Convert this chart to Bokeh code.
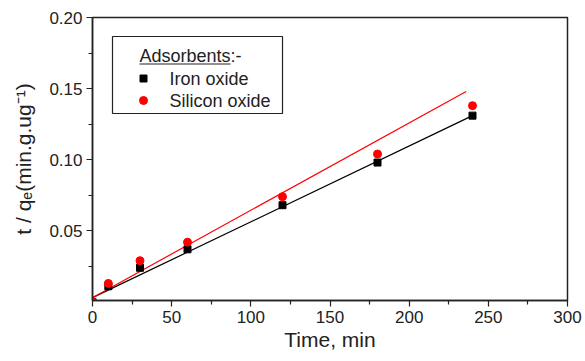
from bokeh.plotting import figure
from bokeh.models import FixedTicker, Range1d
from bokeh.core.properties import value
from bokeh.embed import file_html
from bokeh.resources import INLINE

# Data
time = [0, 10, 30, 60, 120, 180, 240]
iron = [0.0, 0.011, 0.024, 0.037, 0.068, 0.098, 0.131]
silicon = [0.0, 0.013, 0.029, 0.042, 0.074, 0.104, 0.138]
iron_fit_x = [0, 240]
iron_fit_y = [0.003, 0.131]
silicon_fit_x = [0, 236]
silicon_fit_y = [0.003, 0.148]

x_ticks = [0, 50, 100, 150, 200, 250, 300]
x_minor = [25, 75, 125, 175, 225, 275]
y_ticks = [0.05, 0.10, 0.15, 0.20]
y_minor = [0.025, 0.075, 0.125, 0.175]

legend_title = "Adsorbents"
legend_labels = ["Iron oxide", "Silicon oxide"]

FONT = "Liberation Sans"
X0, X1, Y0, Y1 = 0, 300, 0.001, 0.20
L, R, T, B = 92, 567, 17, 300   # frame edges in canvas pixels


def dx(px):
    return X0 + (px - L) * (X1 - X0) / (R - L)


def dy(py):
    return Y0 + (B - py) * (Y1 - Y0) / (B - T)


p = figure(width=585, height=361, output_backend="svg", toolbar_location=None,
           x_range=Range1d(X0, X1), y_range=Range1d(Y0, Y1),
           min_border_left=L, min_border_right=585 - R, min_border_top=T,
           min_border_bottom=361 - B)
p.background_fill_color = "white"
p.border_fill_color = "white"
p.outline_line_color = "#222222"
p.outline_line_width = 1.5
p.xgrid.visible = False
p.ygrid.visible = False

p.xaxis.ticker = FixedTicker(ticks=x_ticks, minor_ticks=x_minor)
p.yaxis.ticker = FixedTicker(ticks=y_ticks, minor_ticks=y_minor)
p.yaxis.major_label_overrides = {0.05: "0.05", 0.10: "0.10", 0.15: "0.15", 0.20: "0.20"}

for ax in (p.xaxis[0], p.yaxis[0]):
    ax.axis_line_color = "#222222"
    ax.axis_line_width = 1.5
    ax.major_tick_line_color = "#222222"
    ax.minor_tick_line_color = "#222222"
    ax.major_tick_line_width = 1.2
    ax.minor_tick_line_width = 1.2
    ax.major_tick_in = 0
    ax.major_tick_out = 6
    ax.minor_tick_in = 0
    ax.minor_tick_out = 4
    ax.major_label_standoff = 4
    ax.major_label_text_font = FONT
    ax.major_label_text_font_size = "17px"
    ax.major_label_text_color = "#222222"
    ax.axis_label_text_font = FONT
    ax.axis_label_text_font_size = "21px"
    ax.axis_label_text_font_style = "normal"
    ax.axis_label_text_color = "#222222"

p.xaxis.axis_label = "Time, min"
p.xaxis.axis_label_standoff = 2
p.yaxis.axis_label = "t / q\u2091(min.g.ug\u207b\u00b9)"
p.yaxis.axis_label_standoff = 11

# fits
p.line(iron_fit_x, iron_fit_y, line_color="black", line_width=1.2)
p.line(silicon_fit_x, silicon_fit_y, line_color="red", line_width=1.2)

# points
p.scatter(time, iron, marker="square", size=7, fill_color="black", line_color="black")
p.scatter(time, silicon, marker="circle", size=8, fill_color="red", line_color="red")

# custom legend
p.quad(left=[dx(112)], right=[dx(282)], top=[dy(36)], bottom=[dy(113)],
       fill_color="white", line_color="#222222", line_width=1.2)
p.text(x=[dx(139)], y=[dy(55)], text=[legend_title + ":-"], text_font=value(FONT),
       text_font_size="18px", text_baseline="middle", text_color="#222222")
p.segment(x0=[dx(139)], y0=[dy(63.5)], x1=[dx(230)], y1=[dy(63.5)],
          line_color="#222222", line_width=1)
p.scatter([dx(143)], [dy(78)], marker="square", size=7, fill_color="black", line_color="black")
p.scatter([dx(143)], [dy(100)], marker="circle", size=8, fill_color="red", line_color="red")
p.text(x=[dx(169), dx(169)], y=[dy(78), dy(100)], text=legend_labels,
       text_font=value(FONT), text_font_size="18px", text_baseline="middle",
       text_color="#222222")

open("out.html", "w").write(file_html(p, INLINE))
